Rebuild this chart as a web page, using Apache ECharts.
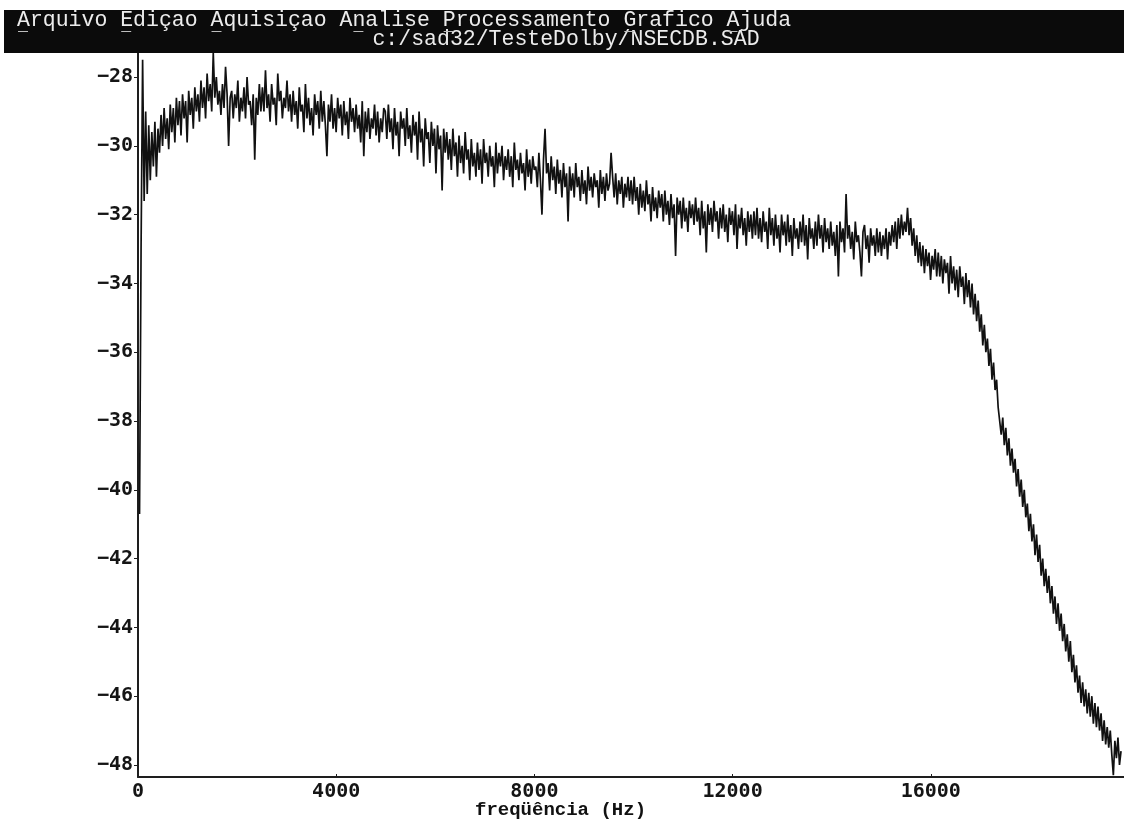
<!DOCTYPE html>
<html>
<head>
<meta charset="utf-8">
<script src="https://cdn.jsdelivr.net/npm/echarts@6/dist/echarts.min.js"></script>
<style>
    html, body { margin: 0; padding: 0; background: #fff; }
    #main { width: 1124px; height: 824px; }
</style>
</head>
<body>
<div id="main"></div>
<script>
    // textos da janela
    const menuText = 'Arquivo Ediçao Aquisiçao Analise Processamento Grafico Ajuda';
    const fileText = 'c:/sad32/TesteDolby/NSECDB.SAD';
    const menuHotkeys = [0, 8, 15, 26, 33, 47, 55];
    const axisName = 'freqüência (Hz)';

    // eixos
    const xTicks = [0, 4000, 8000, 12000, 16000];
    const yTicks = [-48, -46, -44, -42, -40, -38, -36, -34, -32, -30, -28];

    // espectro (dB), um ponto a cada freqStep Hz
    const freqStep = 31;
    const levelsLow = [
        -40.7, -33.0, -27.5, -31.6, -29.0, -31.4, -29.4, -31.0, -29.6, -30.6, -29.3, -30.9, -29.5, -30.2, -29.1, -30.0, -28.9, -29.8, -29.2, -30.1,
        -28.8, -29.6, -28.9, -29.9, -28.6, -29.4, -28.7, -29.7, -28.5, -29.2, -28.7, -29.9, -28.4, -29.1, -28.6, -29.5, -28.3, -29.0, -28.5, -29.3,
        -28.1, -28.9, -28.3, -29.2, -27.9, -28.7, -28.2, -29.0, -27.3, -28.6, -28.0, -28.8, -28.4, -29.1, -28.2, -28.9, -27.7, -28.5, -30.0, -28.6,
        -28.4, -29.2, -28.5, -28.9, -28.1, -29.3, -28.6, -29.0, -28.3, -29.2, -28.0, -28.8, -28.7, -29.4, -28.5, -30.4, -28.6, -29.1, -28.2, -29.0,
        -28.3, -29.0, -27.8, -28.9, -28.5, -29.3, -28.2, -28.8, -28.6, -29.4, -27.9, -28.7, -28.4, -29.2, -28.6, -28.9, -28.1, -29.0, -28.5, -29.3,
        -28.4, -29.1, -28.7, -29.5, -28.3, -29.0, -28.8, -29.6, -28.2, -29.2, -28.6, -29.4, -28.9, -29.7, -28.5, -29.1, -28.7, -29.5, -28.4, -29.3,
        -28.7, -29.4, -30.3, -28.8, -29.3, -28.5, -29.5, -28.9, -29.6, -28.6, -29.2, -28.8, -29.7, -28.7, -29.4, -29.0, -29.8, -28.6, -29.3, -28.9,
        -29.6, -28.8, -29.5, -29.1, -29.9, -28.7, -30.3, -29.0, -29.6, -28.9, -29.8, -29.2, -29.5, -28.8, -29.7, -29.0, -29.9, -29.2, -29.6, -28.9
    ];
    const levelsMid = [
        -29.0, -29.8, -28.8, -29.6, -29.2, -30.1, -28.9, -29.7, -29.3, -30.3, -29.0, -29.5, -29.2, -30.0, -28.9, -29.8, -29.4, -30.2, -29.1, -29.7,
        -29.3, -30.4, -29.0, -29.9, -29.5, -30.6, -29.2, -29.8, -29.6, -30.5, -29.3, -30.0, -29.5, -30.8, -29.4, -30.1, -29.7, -31.3, -29.5, -30.2,
        -29.6, -30.4, -29.8, -30.7, -29.5, -30.3, -29.9, -30.9, -29.7, -30.5, -30.0, -30.8, -29.6, -30.4, -30.1, -31.0, -29.8, -30.6, -30.2, -30.9,
        -29.9, -30.7, -30.1, -31.1, -29.8, -30.5, -30.2, -30.9, -30.0, -30.6, -30.3, -31.2, -29.9, -30.8, -30.2, -30.6, -30.0, -31.0, -30.3, -30.7,
        -30.1, -30.9, -30.3, -31.2, -29.9, -30.7, -30.4, -31.0, -30.2, -30.8, -30.5, -31.3, -30.1, -30.9, -30.4, -31.1, -30.3, -30.7, -30.6, -31.2,
        -30.2, -31.0, -32.0, -30.4, -29.5, -30.8, -30.5, -31.3, -30.3, -31.0, -30.6, -31.4, -30.4, -31.1, -30.7, -31.5, -30.5, -31.2, -30.8, -32.2,
        -30.6, -31.3, -30.8, -31.5, -30.5, -31.2, -30.9, -31.6, -30.7, -31.4, -31.0, -31.7, -30.6, -31.3, -30.9, -31.5, -30.8, -31.2, -31.0, -31.8,
        -30.7, -31.4, -30.9, -31.6, -30.8, -31.3, -31.1, -30.2, -30.9, -31.5, -30.8, -31.7, -31.0, -31.4, -30.9, -31.8, -31.1, -31.5, -30.9, -31.6
    ];
    const levelsHigh = [
        -31.0, -31.7, -30.9, -31.6, -31.2, -32.0, -31.1, -31.8, -31.3, -31.9, -31.0, -31.7, -31.4, -32.2, -31.2, -31.9, -31.5, -32.1, -31.3, -31.8,
        -31.4, -32.2, -31.3, -32.0, -31.6, -32.3, -31.4, -32.1, -31.7, -33.2, -31.5, -32.0, -31.6, -32.4, -31.5, -32.2, -31.8, -32.5, -31.6, -32.1,
        -31.7, -32.3, -31.5, -32.2, -31.8, -32.6, -31.6, -32.4, -31.9, -33.1, -31.7, -32.3, -31.8, -32.5, -31.6, -32.2, -31.9, -32.7, -31.8, -32.4,
        -31.7, -32.5, -32.0, -32.8, -31.8, -32.3, -31.9, -32.6, -31.7, -33.0, -32.0, -32.4, -31.8, -32.6, -32.1, -32.9, -31.9, -32.5, -32.0, -32.7,
        -31.9, -32.6, -31.8, -32.7, -32.1, -32.8, -31.9, -32.5, -32.2, -33.0, -31.8, -32.6, -32.1, -32.9, -32.0, -32.7, -32.3, -33.1, -32.0, -32.6,
        -32.2, -32.9, -32.0, -32.8, -32.3, -33.2, -32.1, -32.7, -32.4, -33.0, -32.2, -32.8, -32.0, -32.9, -32.3, -33.3, -32.1, -32.7, -32.4, -33.0,
        -32.2, -32.9, -32.0, -32.7, -32.3, -33.1, -32.1, -32.8, -32.4, -33.0, -32.2, -32.9, -32.5, -33.2, -32.3, -33.8, -32.2, -32.8, -32.4, -33.1,
        -31.4, -32.7, -32.3, -33.0, -32.5, -33.3, -32.2, -32.8, -32.6, -33.1, -33.8, -32.5, -32.3, -33.0, -32.6, -33.4, -32.4, -32.9, -32.6, -33.2
    ];
    const levelsRolloff = [
        -32.4, -33.1, -32.5, -33.2, -32.6, -33.0, -32.4, -33.3, -32.5, -32.9, -32.3, -32.8, -32.2, -33.0, -32.1, -32.7, -32.0, -32.6, -32.2, -32.5,
        -31.8, -32.6, -32.1, -32.9, -32.4, -33.2, -32.6, -33.4, -32.8, -33.5, -32.9, -33.7, -33.0, -33.5, -33.1, -33.9, -33.2, -33.6, -33.0, -33.8,
        -33.1, -33.8, -33.2, -34.0, -33.3, -33.7, -33.4, -34.3, -33.2, -34.0, -33.5, -34.2, -33.6, -34.4, -33.5, -34.1, -33.8, -34.6, -33.7, -34.4,
        -33.9, -34.7, -34.0, -34.9, -34.3, -35.1, -34.5, -35.4, -34.9, -35.8, -35.2, -36.0, -35.6, -36.4, -35.9, -36.8, -36.3, -37.1, -36.8, -37.6,
        -37.6, -38.4, -37.9, -38.7, -38.2, -39.0, -38.5, -39.3, -38.8, -39.5, -39.1, -39.9, -39.4, -40.2, -39.7, -40.5, -40.0, -40.8, -40.4, -41.2,
        -40.7, -41.5, -41.0, -41.9, -41.3, -42.1, -41.6, -42.5, -42.0, -42.8, -42.3, -43.0, -42.5, -43.3, -42.8, -43.6, -43.1, -43.9, -43.3, -44.1,
        -43.6, -44.4, -43.9, -44.7, -44.2, -45.0, -44.4, -45.3, -44.8, -45.6, -45.1, -45.9, -45.4, -46.2, -45.6, -46.3, -45.8, -46.5, -45.9, -46.6,
        -46.0, -46.8, -46.2, -46.9, -46.3, -47.0, -46.5, -47.3, -46.7, -47.4, -46.9, -47.5, -47.0, -47.7, -48.3, -47.3, -47.8, -47.2, -48.0, -47.6
    ];

    const levels = levelsLow.concat(levelsMid, levelsHigh, levelsRolloff);
    const spectrum = levels.map(function (v, i) {
        return [(i + 1) * freqStep, v];
    });

    const labelFont = 'DejaVu Sans Mono';
    const menuFont = '21.5px "Liberation Mono", monospace';
    const charW = 12.9;

    // barra de menu (fundo preto)
    const graphics = [{
        type: 'rect',
        shape: {x: 4, y: 10, width: 1120, height: 43},
        style: {fill: '#0b0b0b'},
        z: 10
    }, {
        type: 'text',
        x: 17, y: 20,
        style: {text: menuText, font: menuFont, fill: '#ececec', verticalAlign: 'middle', align: 'left'},
        z: 11
    }, {
        type: 'text',
        x: 566, y: 39,
        style: {text: fileText, font: menuFont, fill: '#ececec', verticalAlign: 'middle', align: 'center'},
        z: 11
    }];
    menuHotkeys.forEach(function (k) {
        graphics.push({
            type: 'line',
            shape: {x1: 18 + k * charW, y1: 31.5, x2: 28 + k * charW, y2: 31.5},
            style: {stroke: '#bdbdbd', lineWidth: 1},
            z: 11
        });
    });

    const myChart = echarts.init(document.getElementById('main'));
    const option = {
        animation: false,
        backgroundColor: '#ffffff',
        title: {
            text: axisName,
            left: 470,
            top: 796,
            textStyle: {fontFamily: 'Liberation Mono', fontWeight: 'bold', fontSize: 19, color: '#111'}
        },
        graphic: graphics,
        grid: {left: 138, right: 0, top: 53, bottom: 47, containLabel: false, outerBoundsMode: 'none'},
        xAxis: {
            type: 'value',
            min: 0,
            max: 19900,
            axisLine: {lineStyle: {color: '#1e1e1e', width: 2}},
            axisTick: {show: true, inside: true, length: 3, customValues: xTicks, lineStyle: {color: '#1e1e1e'}},
            axisLabel: {
                customValues: xTicks,
                margin: 5,
                fontFamily: labelFont,
                fontWeight: 'bold',
                fontSize: 20,
                color: '#151515',
                formatter: function (v) {
                    return String(v);
                }
            },
            splitLine: {show: false}
        },
        yAxis: {
            type: 'value',
            min: -48.35,
            max: -27.3,
            axisLine: {show: true, lineStyle: {color: '#1e1e1e', width: 2}},
            axisTick: {show: true, length: 4, customValues: yTicks, lineStyle: {color: '#1e1e1e'}},
            axisLabel: {
                customValues: yTicks,
                margin: 5,
                fontFamily: labelFont,
                fontWeight: 'bold',
                fontSize: 20,
                color: '#151515',
                formatter: function (v) {
                    return String(v).replace('-', '\u2212');
                }
            },
            splitLine: {show: false}
        },
        series: [{
            type: 'line',
            data: spectrum,
            showSymbol: false,
            sampling: null,
            lineStyle: {color: '#111111', width: 1.7},
            z: 2
        }]
    };
    myChart.setOption(option);
</script>
</body>
</html>
